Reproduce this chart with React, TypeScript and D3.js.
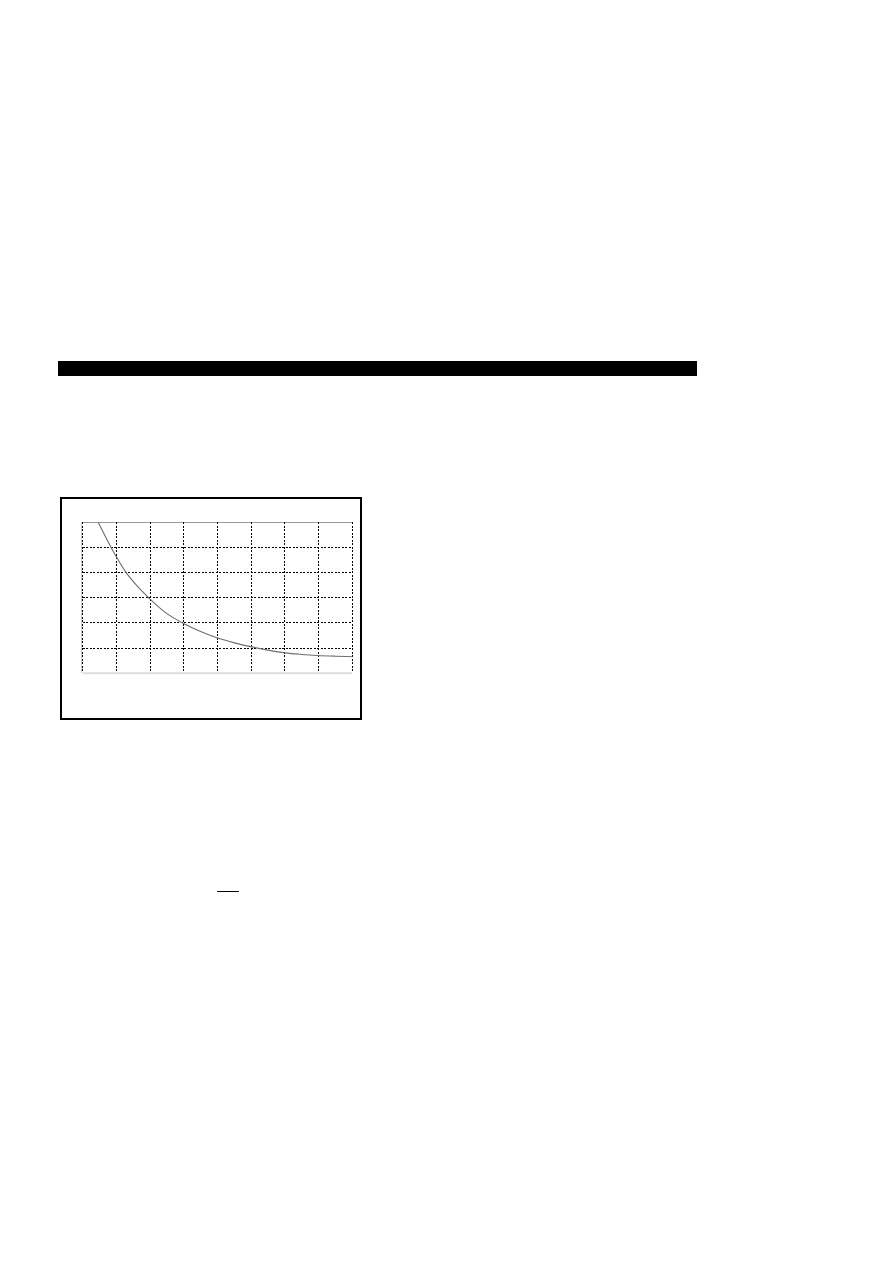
import React, { useEffect, useRef } from 'react';
import * as d3 from 'd3';

// grid divisions (no tick labels are printed on the plot)
const xTicks = [0, 1, 2, 3, 4, 5, 6, 7, 8];
const yTicks = [0, 1, 2, 3, 4, 5, 6];

// decay curve in grid units
const curveX = [0.46, 0.86, 1.28, 1.64, 2.0, 2.44, 2.99, 3.5, 4.03, 4.5, 4.98, 5.5, 6.01, 6.5, 6.96, 7.5, 8.0];
const curveY = [6.0, 4.96, 4.02, 3.43, 2.95, 2.43, 1.98, 1.66, 1.39, 1.21, 1.06, 0.92, 0.81, 0.75, 0.71, 0.68, 0.66];

export default function App() {
  const svgRef = useRef<SVGSVGElement>(null);

  useEffect(() => {
    if (!svgRef.current) return;
    const svg = d3.select(svgRef.current);
    svg.selectAll('*').remove();

    // header rule
    svg.append('rect')
      .attr('x', 58).attr('y', 361)
      .attr('width', 639).attr('height', 15)
      .attr('fill', '#000');

    // figure frame
    svg.append('rect')
      .attr('x', 61).attr('y', 498)
      .attr('width', 300).attr('height', 221)
      .attr('fill', 'none')
      .attr('stroke', '#000')
      .attr('stroke-width', 2);

    const margin = { left: 82.7, top: 522.3 };
    const w = 269.6;
    const h = 151;

    const x = d3.scaleLinear().domain([0, 8]).range([0, w]);
    const y = d3.scaleLinear().domain([0, 6]).range([h, 0]);

    const g = svg.append('g')
      .attr('transform', `translate(${margin.left},${margin.top})`);

    // bottom baseline
    g.append('line')
      .attr('x1', 0).attr('x2', w)
      .attr('y1', y(0)).attr('y2', y(0))
      .attr('stroke', '#ddd')
      .attr('stroke-width', 2);

    // top edge
    g.append('line')
      .attr('x1', 0).attr('x2', w)
      .attr('y1', y(6)).attr('y2', y(6))
      .attr('stroke', '#999')
      .attr('stroke-width', 1)
      .attr('shape-rendering', 'crispEdges');

    g.append('line')
      .attr('x1', -1).attr('x2', -1)
      .attr('y1', 0).attr('y2', h)
      .attr('stroke', '#ccc')
      .attr('stroke-width', 1)
      .attr('shape-rendering', 'crispEdges');

    g.selectAll('.hgrid')
      .data(yTicks.filter(d => d > 0 && d < 6))
      .enter()
      .append('line')
      .attr('class', 'hgrid')
      .attr('x1', 0).attr('x2', w)
      .attr('y1', d => y(d)).attr('y2', d => y(d))
      .attr('stroke', '#000')
      .attr('stroke-width', 1)
      .attr('stroke-dasharray', '2.2,1.3')
      .attr('shape-rendering', 'crispEdges');

    g.selectAll('.vgrid')
      .data(xTicks)
      .enter()
      .append('line')
      .attr('class', 'vgrid')
      .attr('x1', d => x(d)).attr('x2', d => x(d))
      .attr('y1', 0).attr('y2', h)
      .attr('stroke', '#000')
      .attr('stroke-width', 1)
      .attr('stroke-dasharray', '2.2,1.3')
      .attr('shape-rendering', 'crispEdges');

    const pts = curveX.map((v, i) => [v, curveY[i]] as [number, number]);
    const line = d3.line<[number, number]>()
      .x(d => x(d[0]))
      .y(d => y(d[1]))
      .curve(d3.curveMonotoneX);

    g.append('path')
      .datum(pts)
      .attr('d', line)
      .attr('fill', 'none')
      .attr('stroke', '#6e6e6e')
      .attr('stroke-width', 1.1);

    // short rule lower on the page
    svg.append('line')
      .attr('x1', 217).attr('x2', 239)
      .attr('y1', 891).attr('y2', 891)
      .attr('stroke', '#000')
      .attr('stroke-width', 1)
      .attr('shape-rendering', 'crispEdges');
  }, []);

  return (
    <svg
      ref={svgRef}
      width={893}
      height={1262}
      style={{ position: 'absolute', left: 0, top: 0, background: '#fff' }}
    />
  );
}
